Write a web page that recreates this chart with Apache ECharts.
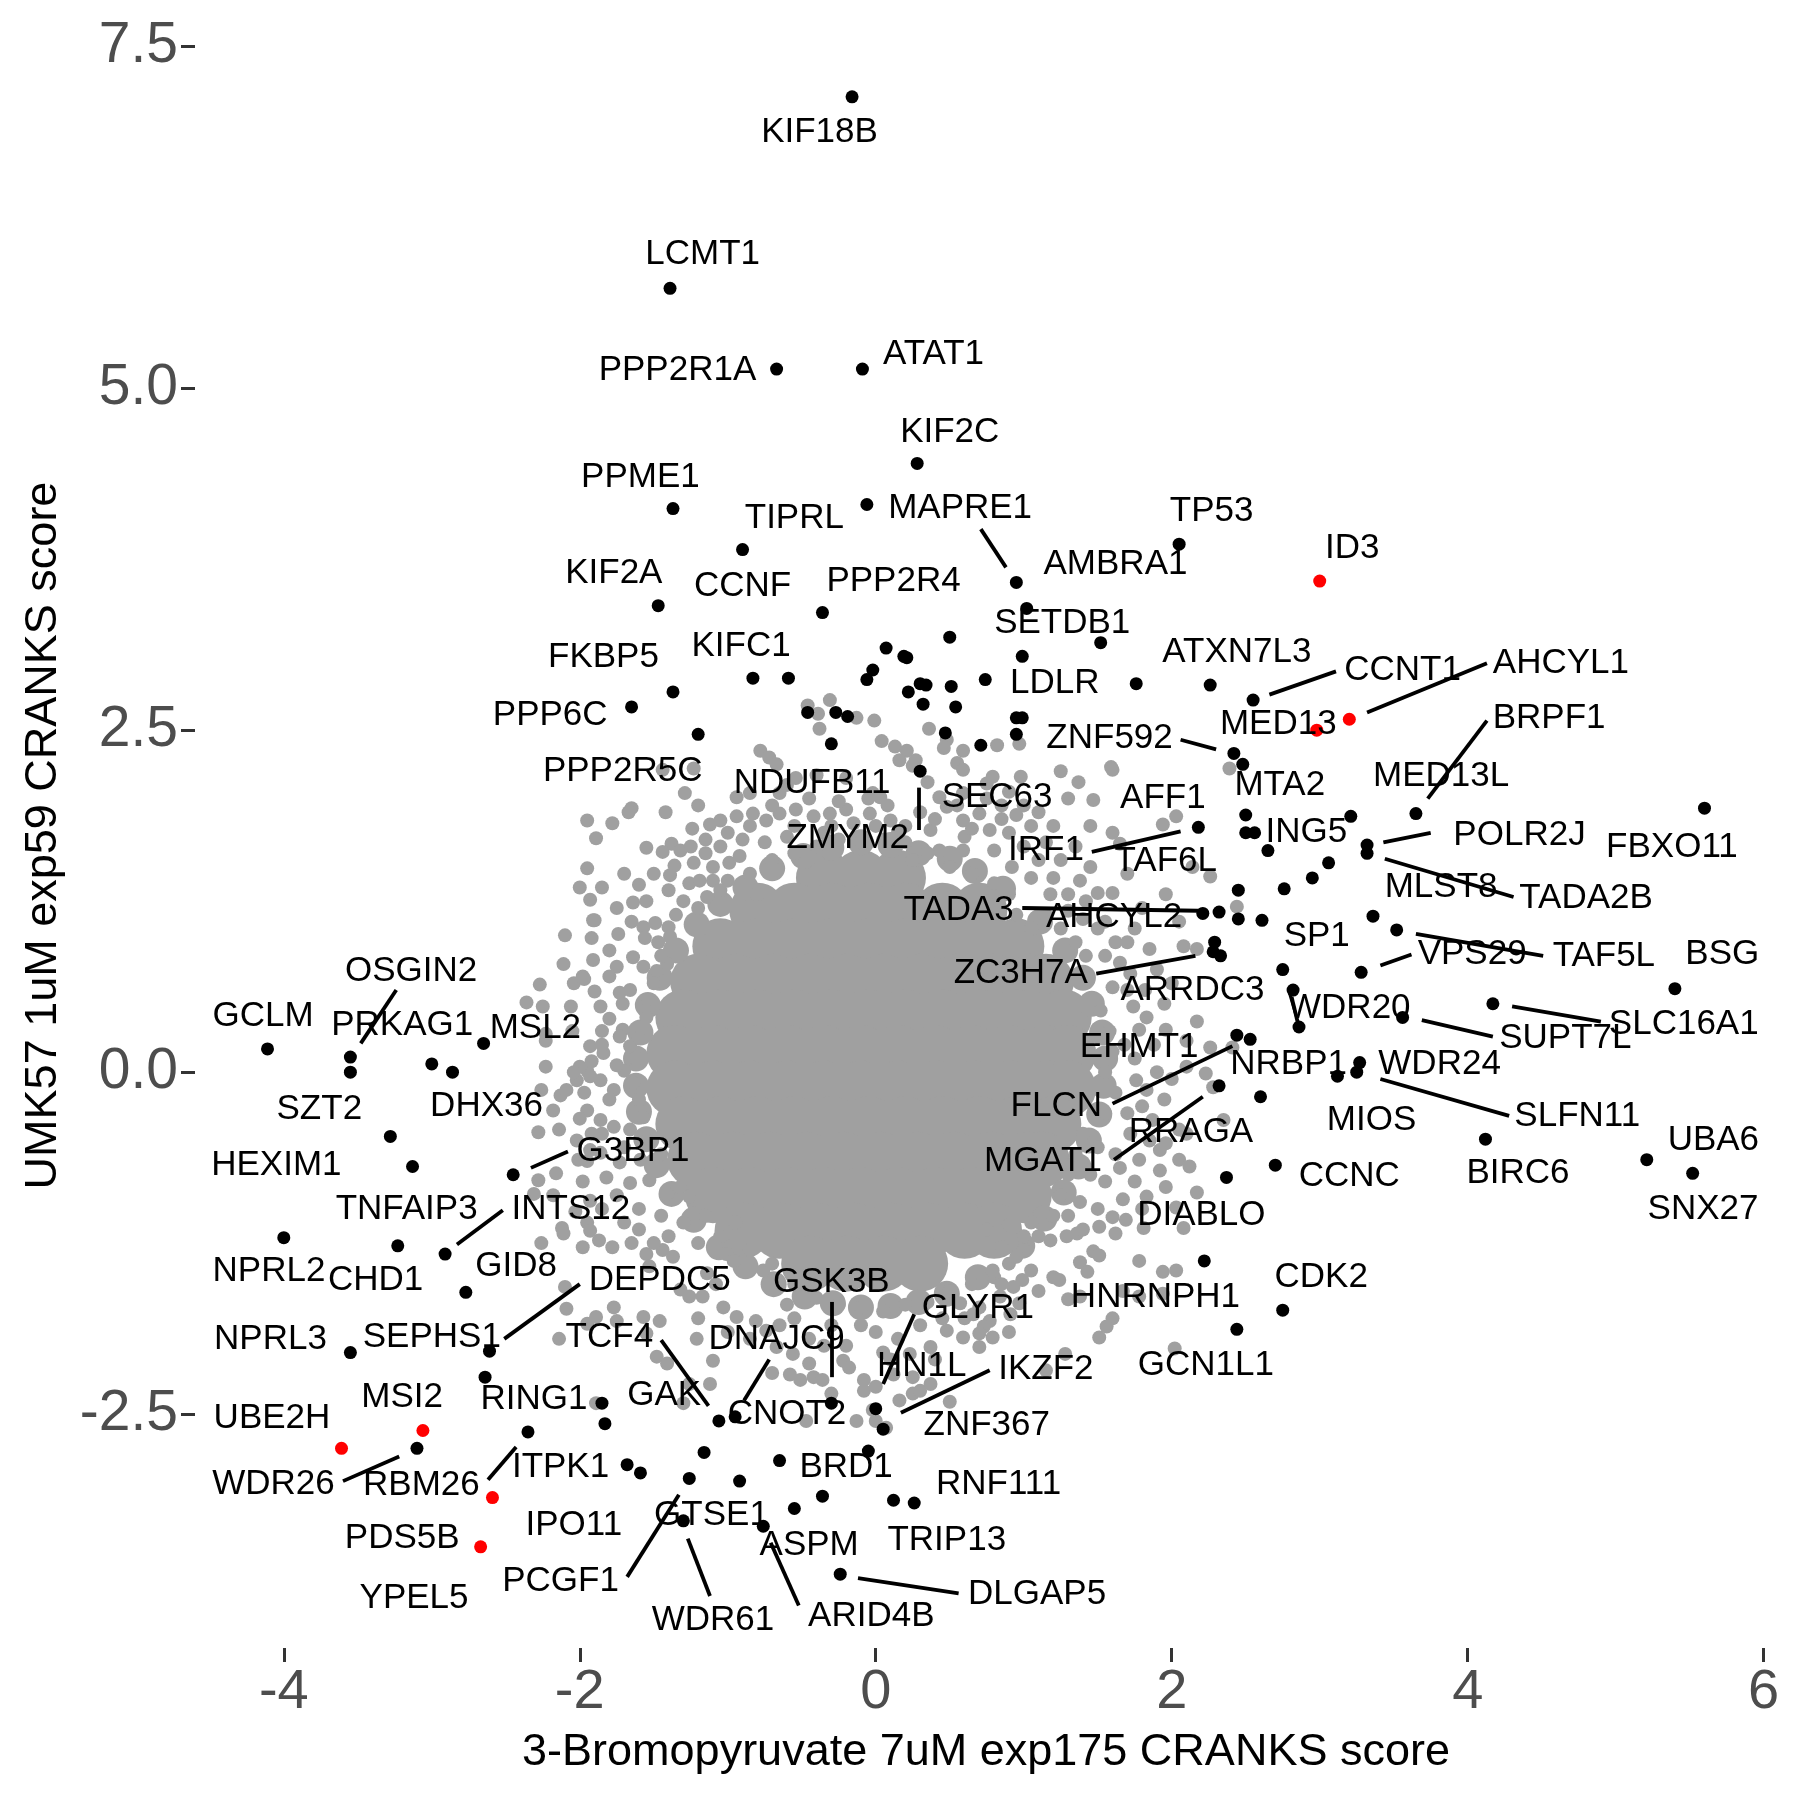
<!DOCTYPE html>
<html><head><meta charset="utf-8">
<script src="https://cdn.jsdelivr.net/npm/echarts@6/dist/echarts.min.js"></script>
<style>html,body{margin:0;padding:0;background:#fff}#c{width:1800px;height:1800px}</style>
</head><body><div id="c"></div>
<script>
const xTicks = [-4, -2, 0, 2, 4, 6];
const yTicks = [-2.5, 0, 2.5, 5, 7.5];
const xTitle = '3-Bromopyruvate 7uM exp175 CRANKS score';
const yTitle = 'UMK57 1uM exp59 CRANKS score';

const blackPts = [
[-0.16,7.13],[-1.39,5.73],[-0.67,5.14],[-0.09,5.14],[0.28,4.45],[-1.37,4.12],[-0.06,4.15],[-0.90,3.82],[2.05,3.86],[0.95,3.58],
[-1.47,3.41],[-0.36,3.36],[1.02,3.39],[1.52,3.14],[0.99,3.04],[0.74,2.87],[1.76,2.84],[2.26,2.83],[2.55,2.72],[-1.37,2.78],
[-1.65,2.67],[-1.20,2.47],[-0.83,2.88],[-0.59,2.88],[0.50,3.18],[0.07,3.10],[0.19,3.04],[0.21,3.03],[-0.02,2.94],[-0.06,2.87],
[0.30,2.84],[0.34,2.83],[0.22,2.78],[0.51,2.82],[0.32,2.69],[0.54,2.67],[-0.27,2.63],[-0.19,2.60],[-0.46,2.63],[0.47,2.48],
[-0.30,2.40],[0.71,2.39],[0.30,2.20],[0.95,2.59],[0.99,2.59],[0.95,2.47],[2.42,2.33],[2.48,2.25],[2.18,1.79],[2.50,1.88],
[2.50,1.75],[2.56,1.75],[3.21,1.87],[2.65,1.62],[3.32,1.66],[3.32,1.60],[3.06,1.53],[2.95,1.42],[2.76,1.34],[2.45,1.33],
[2.21,1.16],[2.32,1.17],[2.45,1.12],[2.61,1.11],[3.36,1.14],[3.52,1.04],[2.29,0.95],[2.28,0.88],[2.33,0.85],[2.75,0.75],
[3.28,0.73],[2.82,0.60],[2.86,0.33],[2.44,0.27],[2.53,0.24],[2.32,-0.10],[3.27,0.07],[3.25,0.00],[3.12,-0.03],[2.60,-0.18],
[2.70,-0.68],[2.37,-0.77],[3.65,1.89],[5.60,1.93],[5.40,0.61],[4.17,0.50],[3.56,0.40],[4.12,-0.49],[5.21,-0.64],[5.52,-0.74],
[-4.11,0.17],[-3.55,0.11],[-3.55,0.00],[-3.00,0.06],[-2.86,0.00],[-2.65,0.21],[-3.28,-0.47],[-3.13,-0.69],[-2.45,-0.75],[-4.00,-1.21],
[-3.23,-1.27],[-2.91,-1.33],[-2.77,-1.61],[-3.55,-2.05],[-2.61,-2.04],[-2.64,-2.23],[-3.10,-2.75],[-2.35,-2.63],[-1.85,-2.42],[-1.83,-2.57],
[-1.68,-2.87],[-1.59,-2.93],[-1.16,-2.78],[-1.26,-2.97],[-0.92,-2.99],[-1.06,-2.55],[-0.95,-2.52],[-1.30,-3.28],[-0.65,-2.84],[-0.36,-3.10],
[-0.55,-3.19],[-0.76,-3.32],[-0.30,-2.42],[0.00,-2.46],[0.05,-2.61],[-0.05,-2.77],[0.12,-3.13],[0.26,-3.15],[-0.24,-3.67],[2.22,-1.38],
[2.75,-1.74],[2.44,-1.88]
];

const redPts = [[3.00,3.59],[3.20,2.58],[2.98,2.50],[-3.06,-2.62],[-3.61,-2.75],[-2.59,-3.11],[-2.67,-3.47]];

const labelNames = [
'KIF18B','LCMT1','PPP2R1A','ATAT1','KIF2C','PPME1','TIPRL','MAPRE1','TP53','ID3',
'AMBRA1','KIF2A','CCNF','PPP2R4','SETDB1','ATXN7L3','CCNT1','AHCYL1','FKBP5','KIFC1',
'LDLR','PPP6C','ZNF592','MED13','BRPF1','PPP2R5C','NDUFB11','SEC63','MTA2','MED13L',
'AFF1','ZMYM2','ING5','POLR2J','FBXO11','IRF1','TAF6L','MLST8','TADA2B','TADA3',
'AHCYL2','SP1','VPS29','TAF5L','BSG','ZC3H7A','ARRDC3','WDR20','SUPT7L','SLC16A1',
'OSGIN2','GCLM','PRKAG1','MSL2','EHMT1','NRBP1','WDR24','SZT2','DHX36','FLCN',
'MIOS','SLFN11','RRAGA','UBA6','G3BP1','HEXIM1','MGAT1','CCNC','BIRC6','SNX27',
'TNFAIP3','INTS12','DIABLO','NPRL2','CHD1','GID8','DEPDC5','GSK3B','CDK2','HNRNPH1',
'GLYR1','NPRL3','SEPHS1','TCF4','DNAJC9','GCN1L1','IKZF2','HN1L','GAK','RING1',
'MSI2','CNOT2','ZNF367','UBE2H','ITPK1','BRD1','RNF111','WDR26','RBM26','GTSE1',
'IPO11','PDS5B','TRIP13','ASPM','PCGF1','DLGAP5','YPEL5','ARID4B','WDR61'
];
const labelPos = [
[-0.38,6.87],[-1.17,5.98],[-1.34,5.13],[0.39,5.25],[0.50,4.68],[-1.59,4.35],[-0.55,4.05],[0.57,4.12],[2.27,4.10],[3.22,3.83],
[1.62,3.71],[-1.77,3.65],[-0.90,3.55],[0.12,3.59],[1.26,3.28],[2.44,3.07],[3.56,2.94],[4.63,2.99],[-1.84,3.03],[-0.91,3.11],
[1.21,2.84],[-2.20,2.61],[1.58,2.44],[2.72,2.54],[4.55,2.59],[-1.71,2.20],[-0.43,2.11],[0.82,2.01],[2.73,2.10],[3.82,2.16],
[1.94,2.00],[-0.19,1.71],[2.91,1.75],[4.35,1.73],[5.38,1.64],[1.15,1.62],[1.96,1.54],[3.82,1.35],[4.80,1.27],[0.56,1.18],
[1.61,1.13],[2.98,0.99],[4.03,0.86],[4.92,0.85],[5.72,0.86],[0.98,0.72],[2.14,0.60],[3.20,0.47],[4.66,0.25],[5.46,0.35],
[-3.14,0.74],[-4.14,0.41],[-3.20,0.34],[-2.30,0.32],[1.78,0.18],[2.79,0.06],[3.81,0.06],[-3.76,-0.27],[-2.63,-0.25],[1.22,-0.25],
[3.35,-0.35],[4.74,-0.32],[2.13,-0.44],[5.66,-0.50],[-1.64,-0.58],[-4.05,-0.68],[1.13,-0.65],[3.20,-0.76],[4.34,-0.74],[5.59,-1.00],
[-3.17,-1.00],[-2.06,-1.00],[2.20,-1.05],[-4.10,-1.46],[-3.38,-1.52],[-2.43,-1.42],[-1.46,-1.52],[-0.30,-1.54],[3.01,-1.50],[1.89,-1.65],
[0.69,-1.73],[-4.09,-1.95],[-3.00,-1.94],[-1.80,-1.94],[-0.67,-1.95],[2.23,-2.14],[1.15,-2.17],[0.31,-2.15],[-1.43,-2.36],[-2.31,-2.39],
[-3.20,-2.38],[-0.60,-2.50],[0.75,-2.58],[-4.08,-2.53],[-2.13,-2.89],[-0.20,-2.89],[0.83,-3.01],[-4.07,-3.01],[-3.07,-3.02],[-1.11,-3.24],
[-2.04,-3.31],[-3.20,-3.41],[0.48,-3.42],[-0.45,-3.46],[-2.13,-3.72],[1.09,-3.82],[-3.12,-3.85],[-0.03,-3.98],[-1.10,-4.01]
];

const segments = [
[0.71,3.97,0.88,3.69],[2.66,2.76,3.11,2.93],[3.32,2.63,4.13,2.99],[2.06,2.43,2.30,2.36],[4.13,2.57,3.73,2.00],
[0.29,2.08,0.29,1.77],[1.46,1.61,2.06,1.76],[0.99,1.20,2.18,1.18],[1.49,0.72,2.16,0.85],[1.60,-0.23,2.41,0.19],
[1.61,-0.64,2.21,-0.18],[3.43,1.68,3.75,1.75],[3.44,1.56,4.31,1.28],[3.65,1.01,4.51,0.85],[3.41,0.78,3.62,0.86],
[3.69,0.38,4.17,0.26],[4.30,0.48,4.90,0.37],[3.41,-0.05,4.28,-0.32],[2.81,0.55,2.85,0.37],[-3.48,0.21,-3.24,0.60],
[-2.33,-0.70,-2.08,-0.58],[-2.83,-1.26,-2.52,-1.01],[-2.51,-1.95,-2.00,-1.55],[-3.60,-2.99,-3.22,-2.81],[-2.62,-2.98,-2.43,-2.74],
[-0.30,-1.68,-0.30,-2.23],[0.26,-1.77,0.05,-2.28],[0.17,-2.49,0.77,-2.18],[-1.45,-1.96,-1.13,-2.44],[-0.72,-2.10,-0.89,-2.40],
[-1.68,-3.69,-1.33,-3.09],[-1.27,-3.41,-1.12,-3.83],[-0.71,-3.44,-0.52,-3.90],[-0.12,-3.70,0.56,-3.81]
];

const greyHalo = [
[-1.65,1.93],[-1.42,1.90],[-1.78,1.82],[-1.24,1.78],[-1.55,1.64],[-1.38,1.67],[-1.32,1.62],[-1.44,1.61],[-1.95,1.49],[-1.60,1.37],
[-1.36,1.51],[-1.23,1.53],[-1.39,1.44],[-1.40,1.33],[-1.93,1.26],[-1.64,1.24],[-1.57,1.06],[-1.49,1.09],[-1.40,1.06],[-1.39,0.99],
[-1.47,0.95],[-1.56,0.98],[-1.74,1.01],[-1.91,1.11],[-1.92,0.98],[-1.80,0.89],[-1.91,0.82],[-1.75,0.77],[-1.64,0.84],[-1.57,0.77],
[-1.48,0.74],[-1.41,0.79],[-1.98,0.70],[-1.90,0.59],[-1.73,0.58],[-1.66,0.60],[-1.71,0.50],[-1.54,0.53],[-1.86,0.48],[-1.80,0.39],
[-1.71,0.31],[-1.93,0.19],[-1.84,0.14],[-1.73,0.26],[-1.66,0.19],[-1.95,0.01],[-1.86,-0.06],[-1.77,-0.13],[-1.70,0.01],[-1.64,-0.08],
[-1.95,-0.28],[-1.86,-0.35],[-1.77,-0.40],[-1.66,-0.42],[-1.57,-0.33],[-1.86,-0.59],[-1.73,-0.66],[-1.59,-0.64],[-1.82,-0.77],[-1.66,-0.81],
[-1.53,-0.79],[-1.41,-0.89],[-1.32,-0.84],[-1.26,-0.91],[-1.55,0.40],[-1.60,0.25],[-1.62,0.10],[-1.60,-0.20],[-1.55,-0.50],[-1.45,-0.60],
[-1.50,0.65],[-1.45,0.85],[-1.35,1.15],[-1.30,1.25],[-1.20,1.20],[-1.10,1.40],[-1.00,1.40],
[-1.26,1.38],[-1.19,1.40],[-1.14,1.28],[-1.05,1.33],[-1.10,1.50],[-0.99,1.53],[-0.92,1.58],[-1.05,1.65],[-1.12,1.81],[-1.05,1.84],
[-0.94,1.87],[-0.83,1.89],[-0.74,1.84],[-0.65,1.89],[-0.54,1.92],[-0.42,1.87],[-0.31,1.89],[-0.20,1.92],[-0.04,1.89],[0.10,1.84],
[0.48,1.94],[0.59,1.84],[0.70,1.89],[0.77,1.77],[0.37,1.77],[0.43,1.62],[0.25,1.55],[0.59,1.62],
[-0.85,1.45],[-0.70,1.55],[-0.55,1.60],[-0.40,1.65],[-0.25,1.70],[-0.10,1.68],[0.05,1.70],[0.20,1.68],[0.35,1.60],[0.50,1.50],
[0.65,1.45],[0.80,1.38],[-0.60,1.72],[-0.30,1.80],[0.00,1.80],[0.20,1.80],[-0.75,1.68],[-0.90,1.70],[0.60,1.72],[0.90,1.30],
[0.95,1.15],[1.05,1.05],[-0.80,1.30],[0.75,1.25],
[0.85,1.95],[0.95,1.88],[1.05,1.80],[0.90,1.75],[1.00,1.65],[1.15,1.68],[1.10,1.55],[1.25,1.55],[1.20,1.42],[1.30,1.30],
[1.42,1.25],[1.40,1.12],[1.50,1.05],[0.80,1.62],[0.92,1.50],[1.05,1.42],[1.18,1.30],[1.30,1.18],[1.15,1.15],[1.25,1.05],
[1.35,0.95],[1.42,0.85],
[2.03,1.87],[1.94,1.81],[2.14,1.50],[2.26,1.43],[1.60,1.75],[1.65,1.67],[1.45,1.50],[1.38,1.40],[1.50,1.31],[1.60,1.31],
[1.96,1.30],[2.44,1.21],[2.08,0.92],[2.17,0.90],[1.72,0.72],[1.60,0.62],[1.74,0.48],[1.83,0.40],[1.78,0.31],[1.96,0.31],
[2.17,0.37],[2.10,0.23],[2.41,0.18],[2.26,0.18],[2.10,0.04],[2.23,-0.01],[2.28,-0.11],[1.76,-0.06],[1.83,-0.13],[1.87,-0.35],
[2.05,-0.42],[2.10,-0.45],[1.96,-0.52],[1.78,-0.64],[1.92,-0.72],[2.05,-0.64],[2.12,-0.69],[1.92,-0.57],[2.17,-0.88],[1.96,-0.84],
[2.35,-0.35],[1.83,-0.91],[2.03,-0.99],[1.67,-0.93],[1.60,-1.06],
[1.55,1.10],[1.62,0.95],[1.55,0.85],[1.65,0.80],[1.52,0.45],[1.58,0.30],[1.60,0.15],[1.55,0.00],[1.62,-0.15],[1.55,-0.30],
[1.50,-0.55],[1.45,-0.75],[1.38,-0.95],[1.70,0.60],[1.68,0.20],[1.70,-0.30],[1.62,-0.60],[1.55,-0.80],
[0.82,2.39],[0.97,2.40],[1.59,2.23],[1.60,2.21],[1.37,2.12],[0.98,2.16],[0.75,2.11],[2.39,2.22],[1.30,2.00],[1.47,1.99],
[-0.46,2.68],[-0.31,2.72],[-0.39,2.62],[-0.38,2.51],[-0.13,2.59],[-0.01,2.57],[0.04,2.42],[0.13,2.38],[0.21,2.35],[0.36,2.51],
[0.48,2.43],[0.46,2.37],[0.59,2.35],[0.79,2.16],[-0.78,2.35],[-0.72,2.30],[-0.67,2.25],[-0.54,2.15],[-0.40,2.17],[-1.44,2.21],
[-1.23,2.22],[-1.29,2.04],[-0.94,2.01],[-0.85,2.04],[-0.65,2.04],[-0.02,2.04],[0.03,2.01],[0.16,2.28],[0.25,2.24],[0.27,2.28],
[0.55,2.26],[0.59,2.21],[0.43,2.01],[0.59,2.04],[-1.95,1.84],[-1.89,1.71],[-1.67,1.90],
[-1.90,1.11],[-2.11,0.79],[-2.27,0.64],[-2.04,0.65],[-1.97,0.68],[-2.36,0.51],[-2.25,0.48],[-2.06,0.48],[-2.23,0.28],[-2.23,0.23],
[-2.23,0.04],[-2.00,0.04],[-1.93,-0.03],[-2.02,-0.06],[-2.26,-0.13],[-2.13,-0.17],[-2.09,-0.13],[-1.97,-0.15],[-2.18,-0.28],[-2.00,-0.34],
[-2.28,-0.44],[-2.14,-0.42],[-2.01,-0.64],[-1.93,-0.57],[-2.28,-0.79],[-2.16,-0.74],[-1.98,-0.80],[-2.31,-0.89],[-2.18,-0.90],[-1.93,-0.94],
[-2.04,0.00],[-1.92,0.08],[-2.02,-0.50],[-1.92,-0.45],[-2.03,-1.02],[-1.95,-1.10],
[-2.26,-1.25],[-2.12,-1.14],[-2.11,-1.18],[-1.98,-1.28],[-2.10,-1.57],[-2.09,-1.73],[-1.95,-1.84],[-1.89,-1.79],[-2.14,-1.95],[-1.89,-2.42],
[-1.87,-1.23],[-1.78,-1.28],[-1.93,-1.16],[-1.55,-1.33],[-1.53,-1.42],[-1.44,-1.30],[-1.37,-1.35],[-1.77,-1.72],[-1.75,-1.82],[-1.57,-1.79],
[-1.46,-1.82],[-1.55,-1.91],[-1.48,-2.08],[-1.41,-2.13],[-1.21,-1.95],[-1.10,-2.11],[-1.12,-2.28],[-1.26,-2.28],[-1.30,-2.42],[-1.32,-1.59],
[-1.26,-1.64],[-1.17,-1.64],[-1.14,-1.47],[-1.08,-1.55],[-1.01,-1.33],[-0.96,-1.38],[-1.03,-1.72],[-0.94,-1.79],[-0.76,-1.45],[-0.81,-1.82],
[-0.74,-1.89],[-0.67,-2.01],[-0.56,-2.06],[-0.58,-2.21],[-0.51,-2.25],[-0.45,-2.13],[-0.42,-2.23],[-0.36,-2.25],[-0.47,-2.55],[-0.22,-2.11],
[-0.18,-2.16],[-0.08,-2.25],[-0.08,-2.33],[-0.13,-2.55],[-0.02,-2.47],[0.00,-2.55],[0.07,-2.60],[0.16,-2.40],[0.25,-2.35],[0.30,-2.33],
[0.37,-2.28],[0.50,-2.41],[0.25,-2.23],[0.12,-2.21],[0.23,-2.06],[0.37,-2.01],[0.48,-1.89],[0.59,-1.94],[0.70,-2.01],[0.79,-1.94],
[0.66,-1.77],[0.77,-1.82],[0.57,-1.69],[0.70,-1.72],
[-1.45,-1.05],[-1.30,-1.10],[-1.15,-1.05],[-1.20,-1.25],[-1.05,-1.20],[-0.95,-1.10],[-1.40,-1.20],[-0.85,-1.30],[-0.70,-1.40],[-0.55,-1.55],
[-0.40,-1.65],[-0.25,-1.70],[-0.10,-1.72],[0.05,-1.75],[0.20,-1.70],[0.35,-1.68],[0.50,-1.60],[-0.60,-1.70],[-0.30,-1.85],[0.00,-1.90],
[0.15,-1.95],[0.30,-1.85],[-0.45,-1.95],[-0.20,-2.00],[0.05,-2.05],[0.90,-1.40],[0.80,-1.50],[0.65,-1.55],[1.00,-1.30],[1.10,-1.20],
[1.20,-1.05],[1.25,-0.90],[1.30,-0.75],[1.35,-0.60],[1.40,-0.45],[-1.60,-1.00],[-1.70,-1.10],[-1.65,-1.25],
[1.18,-1.23],[1.29,-1.20],[1.36,-1.18],[1.51,-1.13],[1.62,-1.18],[1.69,-1.08],[1.81,-1.14],[2.08,-1.14],[1.78,-1.38],[1.94,-1.46],
[2.03,-1.45],[1.47,-1.31],[1.51,-1.34],[1.38,-1.39],[1.43,-1.46],[1.20,-1.50],[1.24,-1.52],[1.30,-1.66],[1.38,-1.64],[1.60,-1.80],
[1.56,-1.86],[1.51,-1.94],[1.67,-1.60],[1.94,-1.62],[1.78,-1.64],[2.02,-2.02],[1.15,-2.18],[1.28,-2.06],[0.99,-1.52],[0.93,-1.57],
[0.79,-1.45],[0.84,-1.64],[0.73,-1.86],[0.70,-1.91],[0.97,-1.69],[0.91,-1.77],[0.75,-1.15],[0.90,-1.12],[1.00,-1.20],[0.85,-1.28],
[0.95,-1.35],[1.05,-1.10],
[-1.15,1.70],[-1.00,1.75],[-0.85,1.80],[-0.70,1.95],[-0.55,1.80],[-0.45,2.00],[-0.35,1.75],[-0.25,1.98],[-0.15,1.82],[-0.05,2.00],
[0.08,1.95],[0.15,1.75],[0.30,1.90],[0.40,1.85],[0.55,1.95],[0.65,1.78],[0.75,2.00],[0.85,1.85],[1.00,1.95],[1.10,1.90],
[-1.20,1.95],[-0.60,2.10],[-0.20,2.15],[0.35,2.12],[0.90,2.05],[1.20,1.80],[1.35,1.65],[1.45,1.80],[1.25,2.20],
[1.70,1.45],[1.80,1.20],[1.75,1.05],[1.85,0.90],[1.70,0.95],[1.90,0.75],[1.82,0.60],[1.95,0.50],[1.88,0.20],[1.75,0.10],
[1.90,0.00],[1.80,-0.25],[1.95,-0.20],[1.72,-0.45],[1.85,-0.50],[1.75,-0.80],[1.65,-0.70],[1.50,-1.00],[1.80,-1.00],[2.00,0.65],
[2.00,-0.05],[2.05,1.10],[1.40,-1.15],[1.30,-1.05],
[-1.20,-1.80],[-1.00,-1.90],[-0.85,-1.95],[-0.65,-1.85],[-0.55,-1.80],[-0.35,-2.00],[-0.10,-1.85],[0.10,-2.10],[0.40,-2.10],[0.45,-1.80],
[0.60,-1.80],[0.85,-1.55],[1.05,-1.45],[1.10,-1.60],[0.90,-1.90],[-0.30,-2.35],[-0.70,-2.20],[0.00,-2.30],
[-1.75,1.20],[-1.85,1.35],[-1.70,1.45],[-1.65,1.10],[-1.80,0.70],[-1.85,0.30],[-1.75,0.05],[-1.85,0.20],[-1.80,-0.20],[-1.70,-0.55],
[-1.85,-0.45],[-1.75,-0.90],[-1.60,-1.15],[-1.50,-1.25],[-1.85,-1.00],[-1.95,-0.65],[-2.05,0.30],[-2.10,1.00],[-2.00,1.35],[-1.55,1.25],
[-1.50,1.45],[-1.25,1.65],[-1.15,1.60]
];

// dense band of overlapping genes just outside the solid core
const denseRing = [
[-0.88,1.35],[-0.70,1.49],[-0.49,1.58],[-0.30,1.64],[-0.10,1.68],[0.10,1.66],[0.29,1.60],[0.50,1.56],[0.67,1.47],[0.86,1.34],
[1.11,1.10],[1.28,0.89],[1.40,0.69],[1.46,0.50],[1.53,0.29],[1.55,0.10],[1.54,-0.10],[1.51,-0.31],[1.44,-0.50],[1.37,-0.69],
[1.27,-0.88],[1.14,-1.07],[0.99,-1.27],[0.69,-1.50],[0.48,-1.62],[0.29,-1.68],[0.10,-1.71],[-0.10,-1.72],[-0.29,-1.69],[-0.48,-1.64],
[-0.69,-1.55],[-0.88,-1.42],[-1.06,-1.28],[-1.23,-1.08],[-1.38,-0.89],[-1.48,-0.68],[-1.55,-0.49],[-1.60,-0.29],[-1.62,-0.10],[-1.62,0.10],
[-1.59,0.29],[-1.54,0.49],[-1.46,0.69],[-1.35,0.89],[-1.21,1.08],[-1.05,1.23]
];

// dense solid core of the grey cloud (thousands of overlapping genes), read as rows
const coreRowY = [1.42, 1.18, 0.92, 0.66, 0.40, 0.14, -0.12, -0.38, -0.64, -0.90, -1.16, -1.40];
const coreRowX = [
[-0.35,-0.10,0.15],
[-0.80,-0.55,-0.30,-0.05,0.20,0.45,0.70],
[-1.05,-0.80,-0.55,-0.30,-0.05,0.20,0.45,0.70,0.95],
[-1.20,-0.95,-0.70,-0.45,-0.20,0.05,0.30,0.55,0.80,1.05,1.15],
[-1.30,-1.05,-0.80,-0.55,-0.30,-0.05,0.20,0.45,0.70,0.95,1.20,1.27],
[-1.36,-1.10,-0.85,-0.60,-0.35,-0.10,0.15,0.40,0.65,0.90,1.15,1.30],
[-1.36,-1.10,-0.85,-0.60,-0.35,-0.10,0.15,0.40,0.65,0.90,1.15,1.30],
[-1.30,-1.05,-0.80,-0.55,-0.30,-0.05,0.20,0.45,0.70,0.95,1.20],
[-1.22,-0.97,-0.72,-0.47,-0.22,0.03,0.28,0.53,0.78,1.03,1.12],
[-1.10,-0.85,-0.60,-0.35,-0.10,0.15,0.40,0.65,0.90,1.00],
[-0.90,-0.65,-0.40,-0.15,0.10,0.35,0.60,0.80],
[-0.45,-0.20,0.05,0.30]
];

const corePts = [];
coreRowY.forEach((y, i) => coreRowX[i].forEach(x => corePts.push([x, y])));

const FONT = 'Liberation Sans, Arial, Helvetica, sans-serif';
const GREY = '#A0A0A0';

const chart = echarts.init(document.getElementById('c'), null, {renderer: 'canvas'});
chart.setOption({
  animation: false,
  backgroundColor: '#ffffff',
  textStyle: {fontFamily: FONT},
  grid: {left: 195, right: 23, top: 23, bottom: 152, containLabel: false},
  xAxis: {
    type: 'value', min: -4.6, max: 6.09,
    name: xTitle, nameLocation: 'middle', nameGap: 82,
    nameTextStyle: {fontSize: 45, color: '#000', fontFamily: FONT},
    axisLine: {show: false, onZero: false},
    splitLine: {show: false},
    axisTick: {show: true, length: 14, lineStyle: {color: '#333333', width: 3}, customValues: xTicks},
    axisLabel: {fontSize: 56, color: '#4D4D4D', margin: 17, fontFamily: FONT, customValues: xTicks,
      formatter: v => String(v)}
  },
  yAxis: {
    type: 'value', min: -4.21, max: 7.67,
    name: yTitle, nameLocation: 'middle', nameGap: 129, nameRotate: 90,
    nameTextStyle: {fontSize: 45, color: '#000', fontFamily: FONT},
    axisLine: {show: false, onZero: false},
    splitLine: {show: false},
    axisTick: {show: true, length: 14, lineStyle: {color: '#333333', width: 3}, customValues: yTicks},
    axisLabel: {fontSize: 57, color: '#4D4D4D', margin: 17, fontFamily: FONT, customValues: yTicks,
      formatter: v => Number(v).toFixed(1)}
  },
  series: [
    {type: 'scatter', data: corePts, symbolSize: 56, itemStyle: {color: GREY, opacity: 1}, silent: true, z: 1},
    {type: 'scatter', data: denseRing, symbolSize: 26, itemStyle: {color: GREY, opacity: 1}, silent: true, z: 1},
    {type: 'scatter', data: greyHalo, symbolSize: 14, itemStyle: {color: GREY, opacity: 1}, silent: true, z: 2},
    {type: 'scatter', data: blackPts, symbolSize: 13, itemStyle: {color: '#000000', opacity: 1}, silent: true, z: 3},
    {type: 'scatter', data: redPts, symbolSize: 13, itemStyle: {color: '#FF0000', opacity: 1}, silent: true, z: 4},
    {type: 'lines', coordinateSystem: 'cartesian2d', polyline: false, silent: true, z: 5,
      lineStyle: {color: '#000000', width: 3.8, opacity: 1},
      data: segments.map(s => ({coords: [[s[0], s[1]], [s[2], s[3]]]}))},
    {type: 'scatter', silent: true, z: 6, symbolSize: 1, itemStyle: {color: 'rgba(0,0,0,0)'},
      data: labelNames.map((n, i) => ({name: n, value: labelPos[i]})),
      label: {show: true, position: 'inside', formatter: '{b}', color: '#000000', fontSize: 35,
        fontFamily: FONT, align: 'center', verticalAlign: 'middle', opacity: 1},
      labelLayout: {hideOverlap: false}}
  ]
});
</script>
</body></html>
